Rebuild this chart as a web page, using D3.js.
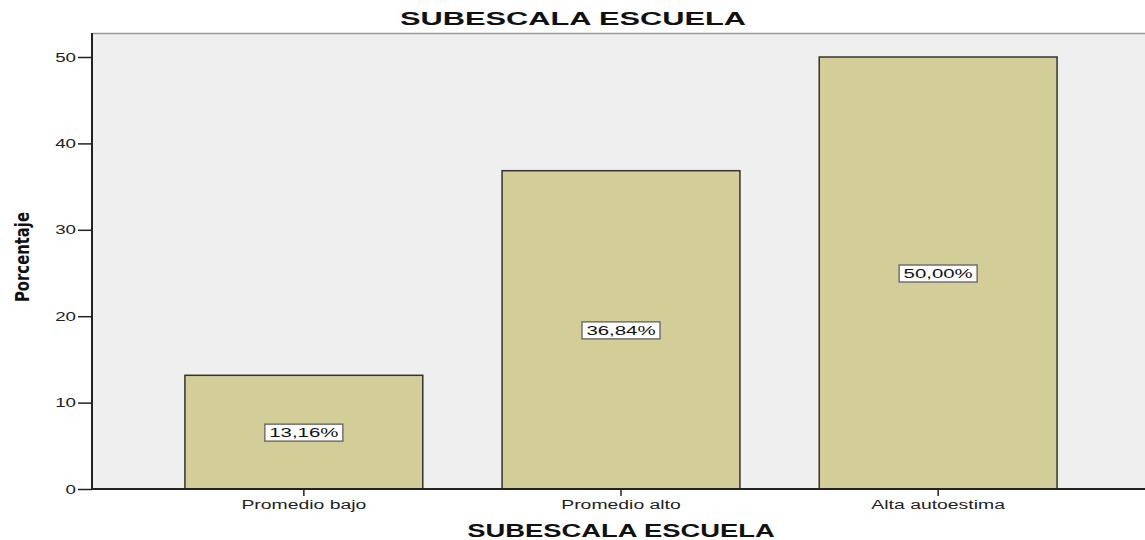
<!DOCTYPE html>
<html>
<head>
<meta charset="utf-8">
<script src="https://cdn.jsdelivr.net/npm/d3@7"></script>
<style>
  body { margin: 0; background: #fff; }
  svg { display: block; font-family: "Liberation Sans", Arial, sans-serif; }
</style>
</head>
<body>
<script>
// data
const categories = ["Promedio bajo", "Promedio alto", "Alta autoestima"];
const values = [13.16, 36.84, 50.00];
const valueLabels = ["13,16%", "36,84%", "50,00%"];
const yTicks = [0, 10, 20, 30, 40, 50];

const width = 1145, height = 540;
const plot = { left: 92, top: 33, right: 1150, bottom: 489 };

// the original uses a wide, stretched type; widen text horizontally
function stretch(sel, factor) {
  sel.each(function() {
    const w = this.getComputedTextLength();
    d3.select(this)
      .attr("textLength", w * factor)
      .attr("lengthAdjust", "spacingAndGlyphs");
  });
}

const svg = d3.select("body").append("svg")
  .attr("width", width)
  .attr("height", height);

const x = d3.scaleBand()
  .domain(categories)
  .range([plot.left, plot.right])
  .paddingInner(0.25)
  .paddingOuter(0.293);

const y = d3.scaleLinear()
  .domain([0, 50])
  .range([plot.bottom, 57]);

// plot background
svg.append("rect")
  .attr("x", plot.left).attr("y", plot.top)
  .attr("width", plot.right - plot.left)
  .attr("height", plot.bottom - plot.top)
  .attr("fill", "#efefef");

svg.append("line")
  .attr("x1", plot.left).attr("x2", width)
  .attr("y1", plot.top + 0.5).attr("y2", plot.top + 0.5)
  .attr("stroke", "#999").attr("stroke-width", 1.5);

// bars
svg.selectAll("rect.bar")
  .data(values)
  .join("rect")
    .attr("class", "bar")
    .attr("x", (d, i) => x(categories[i]))
    .attr("y", d => y(d))
    .attr("width", x.bandwidth())
    .attr("height", d => y(0) - y(d))
    .attr("fill", "#d3cd98")
    .attr("stroke", "#333")
    .attr("stroke-width", 1.5);

// value labels
const lbl = svg.selectAll("g.lbl")
  .data(values)
  .join("g")
    .attr("class", "lbl")
    .attr("transform", (d, i) => `translate(${x(categories[i]) + x.bandwidth() / 2},${y(d / 2)})`);

lbl.append("rect")
  .attr("x", -39).attr("y", -8)
  .attr("width", 78).attr("height", 17)
  .attr("fill", "#fff")
  .attr("stroke", "#707070")
  .attr("stroke-width", 1.5);

lbl.append("text")
  .attr("text-anchor", "middle")
  .attr("y", 0.5)
  .attr("dy", "0.36em")
  .style("font-size", "12px")
  .attr("fill", "#111")
  .text((d, i) => valueLabels[i])
  .call(stretch, 1.7);

// y axis
svg.append("g")
  .attr("transform", `translate(${plot.left},0)`)
  .call(d3.axisLeft(y).tickValues(yTicks).tickSize(14).tickPadding(2))
  .call(g => g.select(".domain").attr("d", `M0,${plot.top}V${plot.bottom}`).attr("stroke", "#222").attr("stroke-width", 2))
  .call(g => g.selectAll(".tick line").attr("stroke", "#222").attr("stroke-width", 1.5))
  .call(g => g.selectAll("text")
    .style("font-size", "12.5px")
    .attr("fill", "#222")
    .call(stretch, 1.5));

// x axis
svg.append("g")
  .attr("transform", `translate(0,${plot.bottom})`)
  .call(d3.axisBottom(x).tickSize(7).tickPadding(4))
  .call(g => g.select(".domain").attr("d", `M${plot.left},0H${width}`).attr("stroke", "#222").attr("stroke-width", 2))
  .call(g => g.selectAll(".tick line").attr("stroke", "#222").attr("stroke-width", 1.5))
  .call(g => g.selectAll("text")
    .style("font-size", "12.5px")
    .attr("fill", "#222")
    .call(stretch, 1.55));

// titles
svg.append("text")
  .attr("x", 573).attr("y", 25)
  .attr("text-anchor", "middle")
  .style("font-size", "19px")
  .style("font-weight", "bold")
  .attr("fill", "#111")
  .text("SUBESCALA ESCUELA")
  .call(stretch, 1.62);

svg.append("text")
  .attr("x", (plot.left + plot.right) / 2).attr("y", 537)
  .attr("text-anchor", "middle")
  .style("font-size", "19px")
  .style("font-weight", "bold")
  .attr("fill", "#111")
  .text("SUBESCALA ESCUELA")
  .call(stretch, 1.44);

svg.append("text")
  .attr("transform", "translate(29,257) rotate(-90)")
  .attr("text-anchor", "middle")
  .style("font-family", "'Liberation Sans Narrow', 'DejaVu Sans Condensed', sans-serif")
  .style("font-size", "20px")
  .style("font-weight", "bold")
  .attr("fill", "#111")
  .text("Porcentaje")
  .attr("textLength", 90)
  .attr("lengthAdjust", "spacingAndGlyphs");
</script>
</body>
</html>
